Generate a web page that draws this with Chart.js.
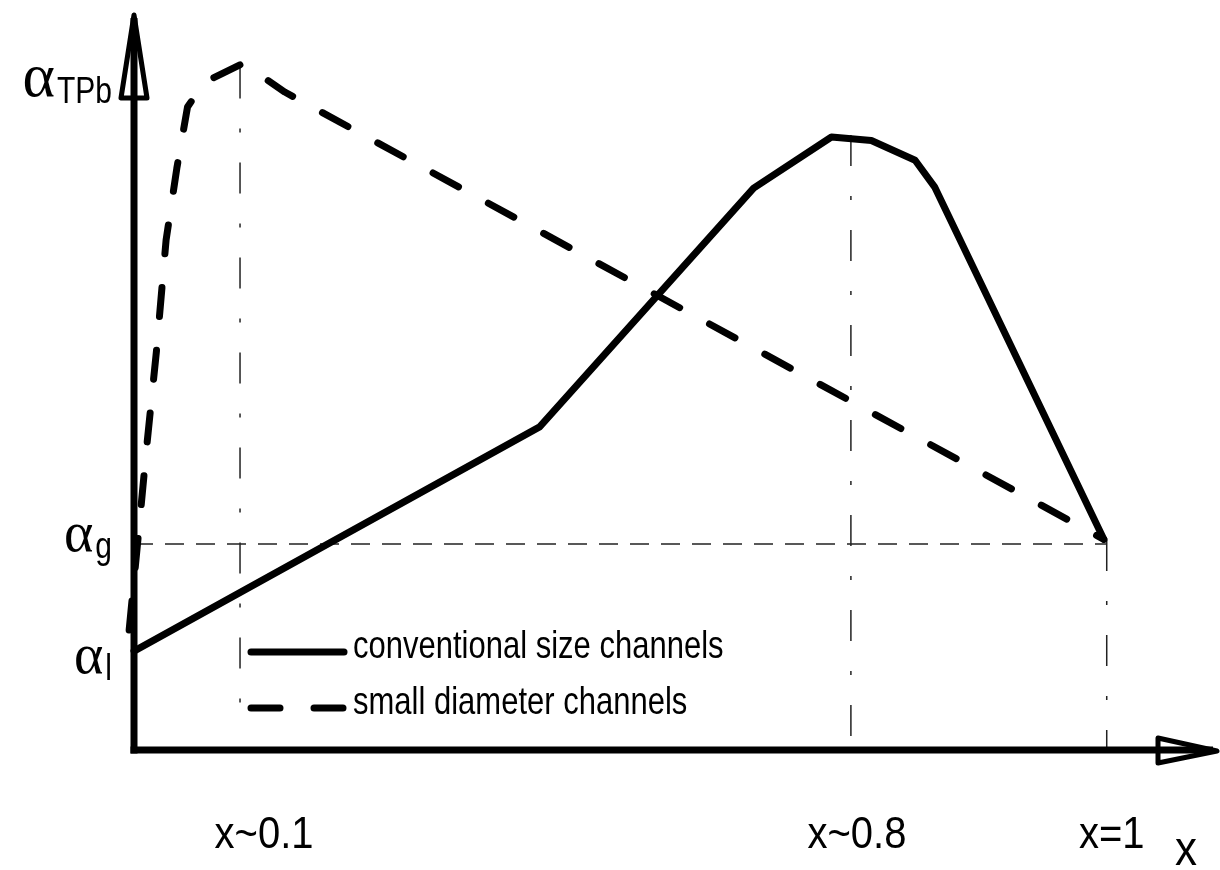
<!DOCTYPE html>
<html>
<head>
<meta charset="utf-8">
<script src="https://cdn.jsdelivr.net/npm/chart.js@4/dist/chart.umd.min.js"></script>
<style>
  html, body { margin: 0; padding: 0; background: #ffffff; }
  #wrap { width: 1220px; height: 870px; position: relative; }
</style>
</head>
<body>
<div id="wrap"><canvas id="c"></canvas></div>
<script>
// ---- data (normalised: x in 0..1, alpha in units of alpha_TPb) ----
const seriesNames = ['conventional size channels', 'small diameter channels'];

const convX = [0.000, 0.417, 0.637, 0.717, 0.758, 0.803, 0.823, 0.997];
const convY = [0.145, 0.474, 0.824, 0.899, 0.894, 0.865, 0.826, 0.309];

const smallX = [-0.005, 0.004, 0.013, 0.023, 0.033, 0.044, 0.055, 0.072, 0.112, 0.155, 0.997];
const smallY = [0.176, 0.308, 0.444, 0.584, 0.748, 0.853, 0.943, 0.979, 1.007, 0.965, 0.309];

// vertical guide lines and their x labels
const xGuideValues = [0.109, 0.737, 1.0];
const xGuideTop    = [1.001, 0.902, 0.308];
const xGuideBottom = [0.048, 0.0, 0.0];
const xGuideLabels = ['x~0.1', 'x~0.8', 'x=1'];

// horizontal guide (alpha_g)
const yGuideValue = 0.302;
const yGuideFrom = 0.0;
const yGuideTo = 1.0;

// y-axis labels (alpha with subscript)
const yLabelValues = [0.979, 0.311, 0.132];
const yLabelSubs = ['TPb', 'g', 'l'];

const xAxisTitle = 'x';

// ---- helpers ----
function stext(ctx, txt, x, y, font, k, align) {
  ctx.save();
  ctx.translate(x, y);
  ctx.scale(1, k);
  ctx.font = font;
  ctx.textAlign = align || 'left';
  ctx.textBaseline = 'alphabetic';
  ctx.fillStyle = '#000';
  ctx.fillText(txt, 0, 0);
  ctx.restore();
}

const decorPlugin = {
  id: 'decor',
  beforeDatasetsDraw(chart) {
    const ctx = chart.ctx;
    const xs = chart.scales.x, ys = chart.scales.y;
    const x0 = xs.getPixelForValue(0), y0 = ys.getPixelForValue(0);

    // guide lines
    ctx.save();
    ctx.strokeStyle = '#222';
    ctx.lineWidth = 1.5;
    ctx.lineCap = 'butt';
    ctx.setLineDash([31, 30, 4, 30]);
    xGuideValues.forEach((v, i) => {
      const px = xs.getPixelForValue(v);
      ctx.beginPath();
      ctx.moveTo(px, ys.getPixelForValue(xGuideTop[i]));
      ctx.lineTo(px, ys.getPixelForValue(xGuideBottom[i]));
      ctx.stroke();
    });
    ctx.setLineDash([19, 12]);
    const gy = ys.getPixelForValue(yGuideValue);
    ctx.beginPath();
    ctx.moveTo(xs.getPixelForValue(yGuideFrom), gy);
    ctx.lineTo(xs.getPixelForValue(yGuideTo), gy);
    ctx.stroke();
    ctx.restore();

    // axes with hollow arrow heads
    ctx.save();
    ctx.strokeStyle = '#000';
    ctx.lineCap = 'butt';
    ctx.lineJoin = 'round';
    ctx.lineWidth = 7;
    ctx.beginPath();
    ctx.moveTo(x0, y0 + 3.5);
    ctx.lineTo(x0, 18);
    ctx.stroke();
    ctx.beginPath();
    ctx.moveTo(x0 - 3.5, y0);
    ctx.lineTo(1213, y0);
    ctx.stroke();
    ctx.lineWidth = 5;
    // y arrow
    ctx.beginPath();
    ctx.moveTo(x0, 15);
    ctx.lineTo(x0 - 13, 98);
    ctx.lineTo(x0 + 13, 98);
    ctx.closePath();
    ctx.stroke();
    // x arrow
    ctx.beginPath();
    ctx.moveTo(1217, y0 + 1);
    ctx.lineTo(1158, y0 - 12);
    ctx.lineTo(1158, y0 + 13);
    ctx.closePath();
    ctx.stroke();
    ctx.restore();
  },
  afterDatasetsDraw(chart) {
    const ctx = chart.ctx;
    const xs = chart.scales.x, ys = chart.scales.y;
    const x0 = xs.getPixelForValue(0), y0 = ys.getPixelForValue(0);

    // y labels: alpha + subscript, right aligned left of the axis
    yLabelValues.forEach((v, i) => {
      const base = ys.getPixelForValue(v) + 13;
      const subRight = x0 - 22;
      ctx.save();
      ctx.font = '30px "Liberation Sans", Arial, sans-serif';
      const sw = ctx.measureText(yLabelSubs[i]).width;
      ctx.restore();
      stext(ctx, yLabelSubs[i], subRight, base + 7, '30px "Liberation Sans", Arial, sans-serif', 1.2, 'right');
      const aSize = i === 0 ? 62 : 56;
      stext(ctx, 'α', subRight - sw - 2, base, aSize + 'px "Liberation Serif", "Times New Roman", serif', 1.0, 'right');
    });

    // x labels under the guides
    const nudge = [24, 6, 5];
    xGuideLabels.forEach((t, i) => {
      const px = xs.getPixelForValue(xGuideValues[i]) + nudge[i];
      stext(ctx, t, px, 848, '40px "Liberation Sans", Arial, sans-serif', 1.12, 'center');
    });
    stext(ctx, xAxisTitle, 1175, 865, '44px "Liberation Sans", Arial, sans-serif', 1.1, 'left');

    // legend built from the datasets
    const ly = [652, 708];
    chart.data.datasets.forEach((ds, i) => {
      ctx.save();
      ctx.strokeStyle = ds.borderColor;
      ctx.lineWidth = ds.borderWidth;
      ctx.lineCap = 'round';
      ctx.setLineDash(ds.borderDash || []);
      ctx.beginPath();
      ctx.moveTo(251, ly[i]);
      ctx.lineTo(344, ly[i]);
      ctx.stroke();
      ctx.restore();
      stext(ctx, ds.label, 353, ly[i] + 6, '31px "Liberation Sans", Arial, sans-serif', 1.23, 'left');
    });
  }
};

const toPts = (xa, ya) => xa.map((x, i) => ({ x: x, y: ya[i] }));

new Chart(document.getElementById('c'), {
  type: 'line',
  data: {
    datasets: [
      {
        label: seriesNames[0],
        data: toPts(convX, convY),
        borderColor: '#000',
        borderWidth: 7,
        borderJoinStyle: 'round',
        borderCapStyle: 'round',
        pointRadius: 0,
        tension: 0,
        fill: false,
        clip: false
      },
      {
        label: seriesNames[1],
        data: toPts(smallX, smallY),
        borderColor: '#000',
        borderWidth: 7,
        borderDash: [29, 34],
        borderJoinStyle: 'round',
        borderCapStyle: 'round',
        pointRadius: 0,
        tension: 0,
        fill: false,
        clip: false
      }
    ]
  },
  options: {
    responsive: true,
    maintainAspectRatio: false,
    animation: false,
    layout: { padding: { left: 134, right: 16, top: 0, bottom: 120 } },
    scales: {
      x: { type: 'linear', min: 0, max: 1.1, display: false },
      y: { type: 'linear', min: 0, max: 1.1, display: false }
    },
    plugins: {
      legend: { display: false },
      tooltip: { enabled: false },
      title: { display: false }
    }
  },
  plugins: [decorPlugin]
});
</script>
</body>
</html>
